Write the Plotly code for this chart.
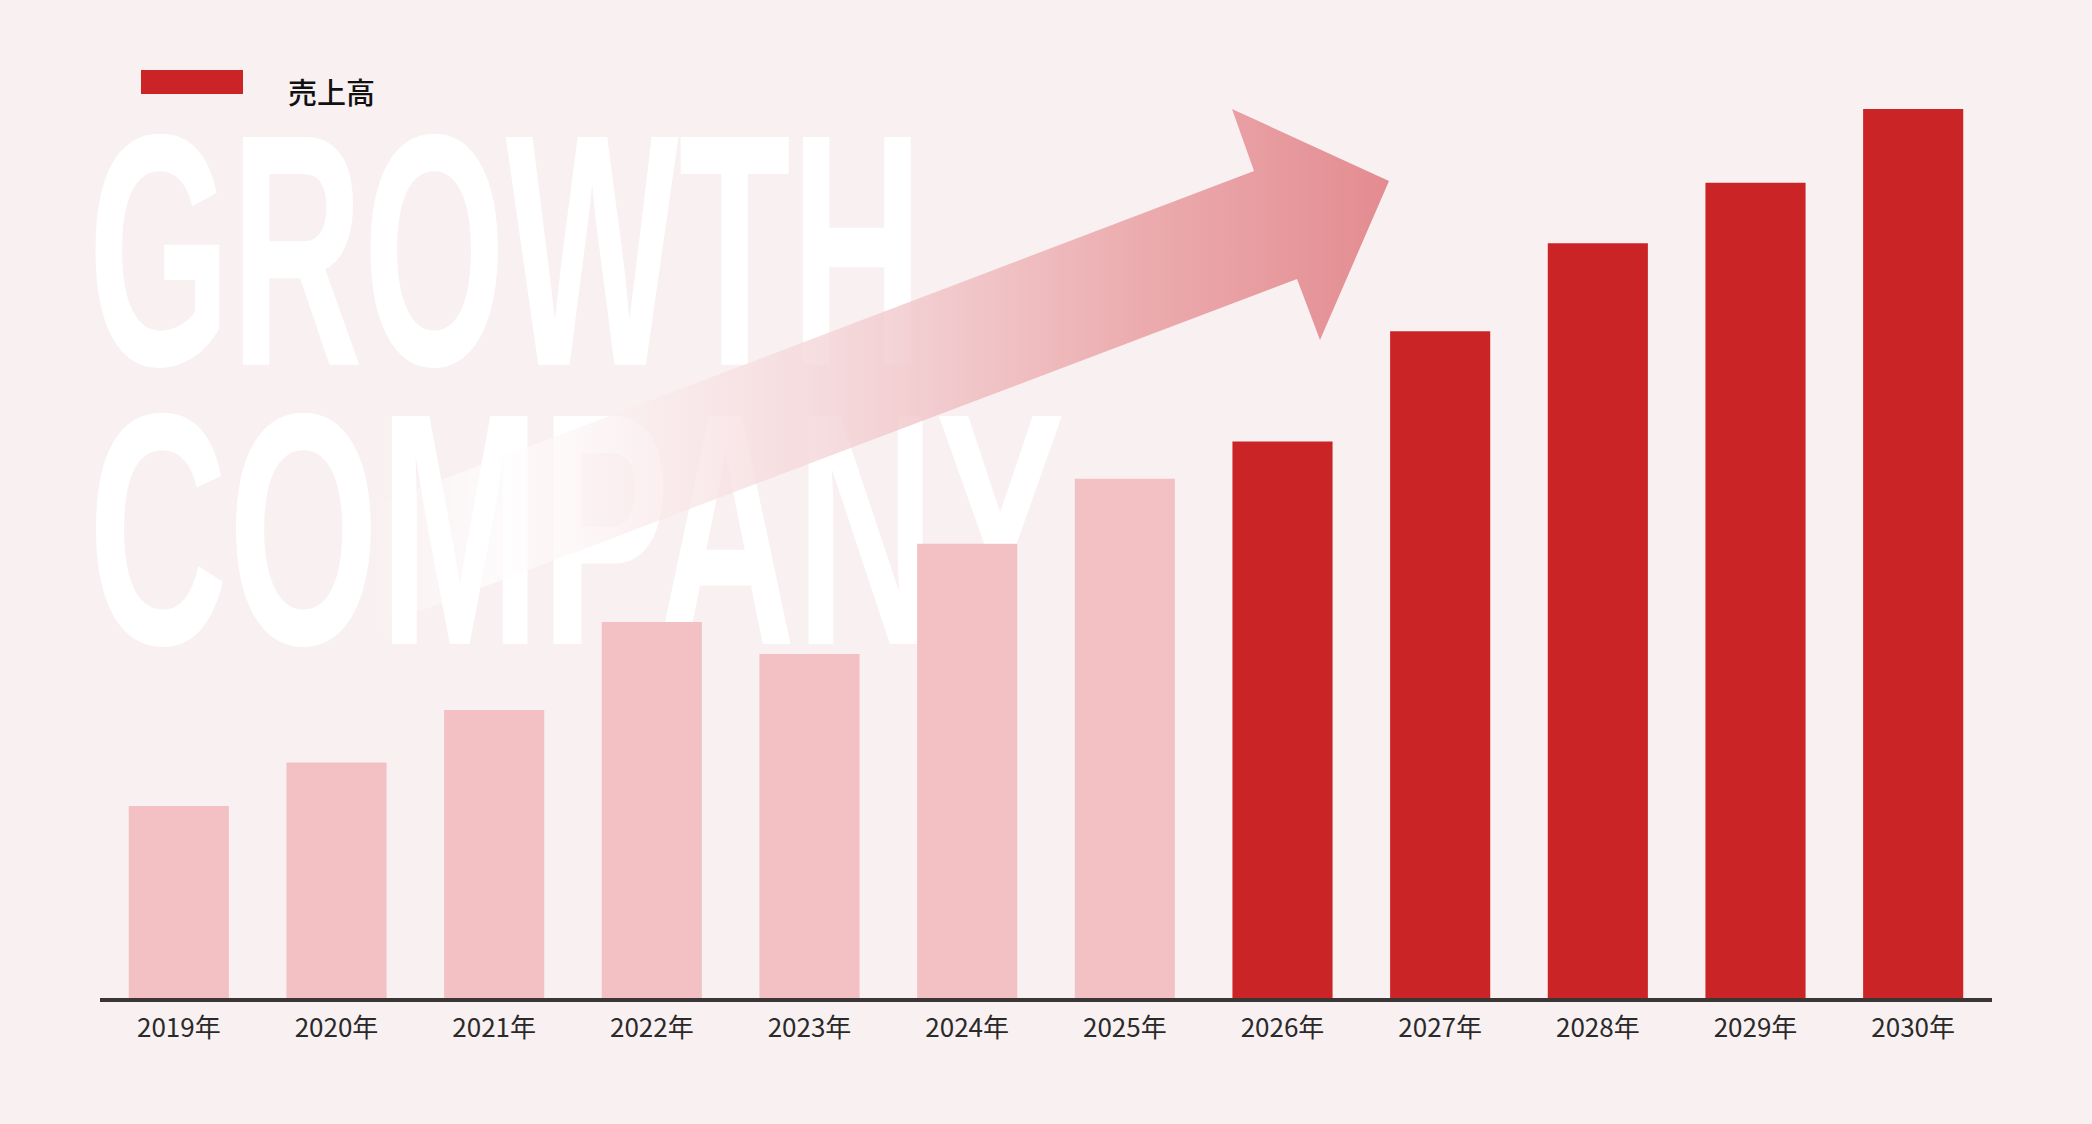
import plotly.graph_objects as go

# 売上高の推移(相対値、2030年 = 100)
years = ["2019年", "2020年", "2021年", "2022年", "2023年", "2024年",
         "2025年", "2026年", "2027年", "2028年", "2029年", "2030年"]
sales = [21.6, 26.5, 32.4, 42.3, 38.7, 51.1, 58.4, 62.6, 75.0, 84.9, 91.7, 100.0]
forecast_from = "2026年"

headline = ["GROWTH", "COMPANY"]
legend_label = "売上高"

W, H = 2092, 1124
BG = "#f9f0f1"
PINK = "#f3c1c3"
RED = "#cb2427"

split = years.index(forecast_from)
bar_colors = [PINK if i < split else RED for i in range(len(years))]

fig = go.Figure()

# 背景の大きな文字(ピクセル座標の補助軸に配置)
fig.add_trace(go.Scatter(
    x=[88, 88],
    y=[282, 561],
    text=headline,
    mode="text",
    textposition="middle right",
    textfont=dict(family="Liberation Sans, Arial, sans-serif", size=331,
                  color="white", weight=700),
    hoverinfo="skip",
    showlegend=False,
    xaxis="x",
    yaxis="y",
))

# 右上がりの矢印(グラデーション)
arrow_x = [370, 1254, 1232, 1389, 1320, 1297, 370]
arrow_y = [507, 171, 109, 181, 340, 279, 630]
fig.add_trace(go.Scatter(
    x=arrow_x,
    y=arrow_y,
    mode="lines",
    line=dict(width=0),
    fill="toself",
    fillgradient=dict(
        type="horizontal",
        colorscale=[
            [0.0, "rgba(255,255,255,0)"],
            [0.12, "rgba(255,255,255,0.7)"],
            [0.45, "rgba(244,212,215,0.8)"],
            [0.75, "rgba(234,165,168,0.9)"],
            [1.0, "rgba(226,134,139,0.95)"],
        ],
    ),
    hoverinfo="skip",
    showlegend=False,
    xaxis="x",
    yaxis="y",
))

# 売上高の棒グラフ
fig.add_trace(go.Bar(
    x=years,
    y=sales,
    marker=dict(color=bar_colors, line=dict(width=0)),
    name=legend_label,
    hoverinfo="skip",
    showlegend=False,
    xaxis="x2",
    yaxis="y2",
))

# 凡例(手描き)
fig.add_shape(type="rect", xref="x", yref="y", x0=141, x1=243, y0=70, y1=94,
              fillcolor=RED, line=dict(width=0))
fig.add_annotation(xref="x", yref="y", x=286, y=91, text=legend_label,
                   showarrow=False, xanchor="left", yanchor="middle",
                   font=dict(family="Noto Sans CJK JP", size=29, color="#111111",
                             weight=500))

plot_top = 50
axis_y = 998
px_per_unit = (997 - 108) / max(sales)

fig.update_layout(
    width=W,
    height=H,
    margin=dict(l=0, r=0, t=0, b=0),
    paper_bgcolor=BG,
    plot_bgcolor="rgba(0,0,0,0)",
    showlegend=False,
    bargap=0.365,
    xaxis=dict(domain=[0, 1], range=[0, W], visible=False, fixedrange=True),
    yaxis=dict(domain=[0, 1], range=[H, 0], visible=False, fixedrange=True),
    xaxis2=dict(
        domain=[100 / W, 1992 / W],
        anchor="y2",
        type="category",
        showline=True,
        linecolor="#3a3636",
        linewidth=4,
        showgrid=False,
        ticks="",
        ticklabelstandoff=4,
        tickfont=dict(family="Noto Sans CJK JP", size=26, color="#2a2a2a"),
        fixedrange=True,
    ),
    yaxis2=dict(
        domain=[(H - axis_y) / H, (H - plot_top) / H],
        anchor="x2",
        range=[0, (axis_y - plot_top) / px_per_unit],
        visible=False,
        fixedrange=True,
    ),
)

# 見出し文字を縦長の書体に見せるため、横幅だけ詰める
headline_widths = [835, 977]
post = """
document.body.style.margin = '0';
document.body.style.background = '%s';
var gd = document.getElementById('{plot_id}');
var widths = %s;
gd.querySelectorAll('.textpoint text').forEach(function (t, i) {
    t.setAttribute('textLength', widths[i]);
    t.setAttribute('lengthAdjust', 'spacingAndGlyphs');
});
""" % (BG, headline_widths)

fig.write_html("out.html", post_script=post,
               config={"responsive": False, "displayModeBar": False})
